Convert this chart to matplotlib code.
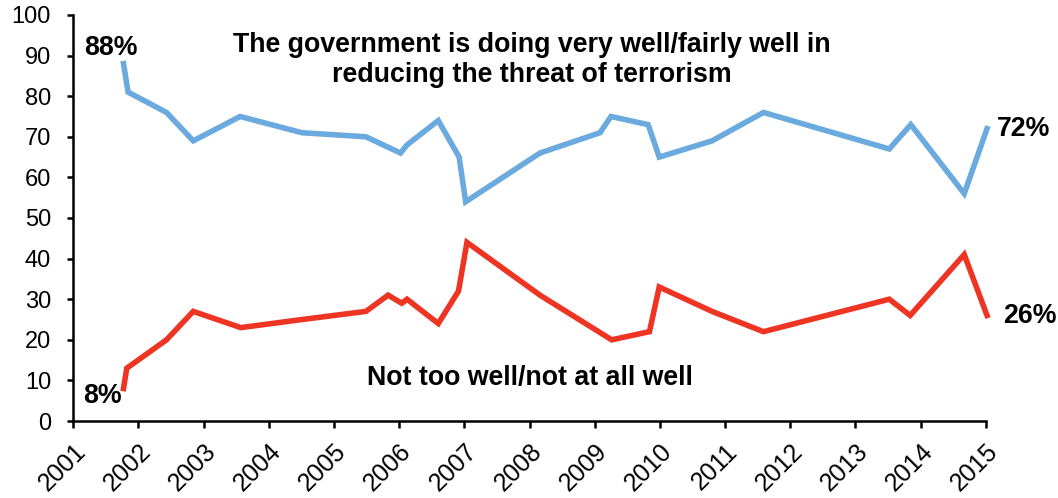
import matplotlib.pyplot as plt

# survey dates (decimal years) and shares
well_dates = [2001.77, 2001.84, 2002.43, 2002.84, 2003.56, 2004.51, 2005.49,
              2006.02, 2006.12, 2006.60, 2006.92, 2007.02, 2008.16, 2009.08,
              2009.25, 2009.82, 2009.99, 2010.80, 2011.59, 2013.52, 2013.85,
              2014.67, 2015.02]
well_vals = [88, 81, 76, 69, 75, 71, 70, 66, 68, 74, 65, 54, 66, 71,
             75, 73, 65, 69, 76, 67, 73, 56, 72]

notwell_dates = [2001.77, 2001.82, 2002.43, 2002.84, 2003.57, 2004.51, 2005.49,
                 2005.83, 2006.04, 2006.12, 2006.60, 2006.91, 2007.04, 2008.16,
                 2009.26, 2009.84, 2009.99, 2010.80, 2011.59, 2013.52, 2013.84,
                 2014.67, 2015.02]
notwell_vals = [8, 13, 20, 27, 23, 25, 27, 31, 29, 30, 24, 32, 44, 31,
                20, 22, 33, 27, 22, 30, 26, 41, 26]

years = list(range(2001, 2016))
yticks = list(range(0, 101, 10))

blue = '#6aaade'
red = '#ee3524'

plt.rcParams['font.family'] = ['Liberation Sans', 'DejaVu Sans']

fig = plt.figure(figsize=(10.58, 4.98), dpi=100)
ax = fig.add_axes([0.0693, 0.1546, 0.8624, 0.8153])

ax.plot(well_dates, well_vals, color=blue, lw=4, solid_joinstyle='miter', clip_on=False)
ax.plot(notwell_dates, notwell_vals, color=red, lw=4, solid_joinstyle='miter', clip_on=False)

ax.set_xlim(2001, 2015)
ax.set_ylim(0, 100)
ax.set_xticks(years)
ax.set_xticklabels([str(y) for y in years], rotation=45, ha='right',
                   rotation_mode='anchor', fontsize=18)
ax.set_yticks(yticks)
ax.set_yticklabels([str(v) for v in yticks], fontsize=17)

for s in ['top', 'right']:
    ax.spines[s].set_visible(False)
for s in ['left', 'bottom']:
    ax.spines[s].set_linewidth(1.8)
    ax.spines[s].set_color('black')
ax.tick_params(axis='y', length=4, width=1.8, pad=12)
ax.tick_params(axis='x', length=5, width=1.8, pad=8)

lab = dict(fontsize=19.3, fontweight='bold')
ax.text(2008.03, 88.9, 'The government is doing very well/fairly well in\nreducing the threat of terrorism',
        ha='center', va='center', linespacing=1.2, **lab)
ax.text(2008.0, 10.5, 'Not too well/not at all well', ha='center', va='center', **lab)

ax.annotate('88%', (well_dates[0], well_vals[0]), xytext=(-13, 16),
            textcoords='offset pixels', ha='center', va='center', **lab)
ax.annotate('72%', (well_dates[-1], well_vals[-1]), xytext=(10, 0),
            textcoords='offset pixels', ha='left', va='center',
            annotation_clip=False, **lab)
ax.annotate('26%', (notwell_dates[-1], notwell_vals[-1]), xytext=(16, -1),
            textcoords='offset pixels', ha='left', va='center',
            annotation_clip=False, **lab)
ax.annotate('8%', (notwell_dates[0], notwell_vals[0]), xytext=(-21, -7),
            textcoords='offset pixels', ha='center', va='center', **lab)

fig.savefig('out.png', dpi=100)
